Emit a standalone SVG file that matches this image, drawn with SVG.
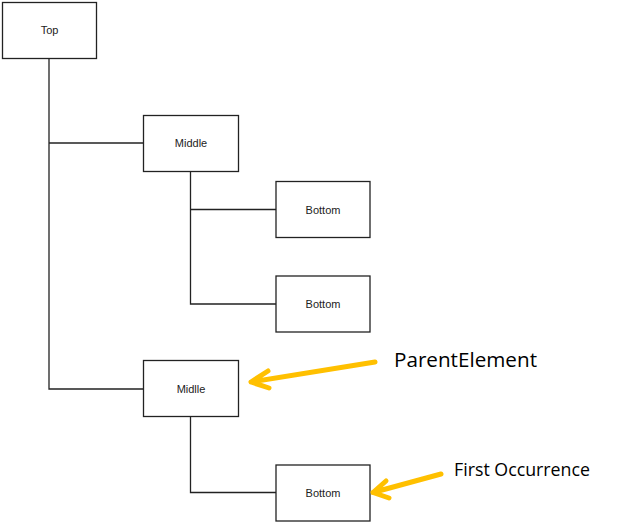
<svg xmlns="http://www.w3.org/2000/svg" width="617" height="523" viewBox="0 0 617 523">
<style>
.box{fill:#fff;stroke:#222;stroke-width:1.3}
.lbl{font-family:"Liberation Sans",Arial,sans-serif;font-size:11px;fill:#222;text-anchor:middle;dominant-baseline:central}
.conn{fill:none;stroke:#222;stroke-width:1.3}
.arr{fill:none;stroke:#FFC000;stroke-width:5;stroke-linecap:round;stroke-linejoin:round}
.note{font-family:"Open Sans","Noto Sans",sans-serif;fill:#000}
</style>
<rect width="617" height="523" fill="#fff"/>
<g id="connectors">
<path class="conn" d="M49 58 V389 H143"/>
<path class="conn" d="M49 143 H143"/>
<path class="conn" d="M190.5 171 V304 H276"/>
<path class="conn" d="M190.5 209.5 H276"/>
<path class="conn" d="M190.5 416.5 V492.5 H276"/>
</g>
<g id="top"><rect class="box" x="2.5" y="2.5" width="94" height="56"/><text class="lbl" x="49.5" y="29.5">Top</text></g>
<g id="middle1"><rect class="box" x="143.5" y="115.5" width="95" height="56"/><text class="lbl" x="191" y="143">Middle</text></g>
<g id="bottom1"><rect class="box" x="276" y="181.5" width="94" height="56"/><text class="lbl" x="323" y="209.5">Bottom</text></g>
<g id="bottom2"><rect class="box" x="276" y="276" width="94" height="56"/><text class="lbl" x="323" y="303.5">Bottom</text></g>
<g id="middle2"><rect class="box" x="143.5" y="360.5" width="95" height="56"/><text class="lbl" x="191" y="388.5">Midlle</text></g>
<g id="bottom3"><rect class="box" x="276" y="465" width="94" height="56"/><text class="lbl" x="323" y="492.5">Bottom</text></g>
<g id="annotations">
<path class="arr" d="M375 362 L251 382 M268 371 L251 382 L269 388"/>
<text class="note" x="394" y="366.5" font-size="20" textLength="143" lengthAdjust="spacingAndGlyphs">ParentElement</text>
<path class="arr" d="M441 474 L373 492.5 M386 481 L373 492.5 L389 498"/>
<text class="note" x="454" y="476" font-size="17.5" textLength="136" lengthAdjust="spacingAndGlyphs">First Occurrence</text>
</g>
</svg>
